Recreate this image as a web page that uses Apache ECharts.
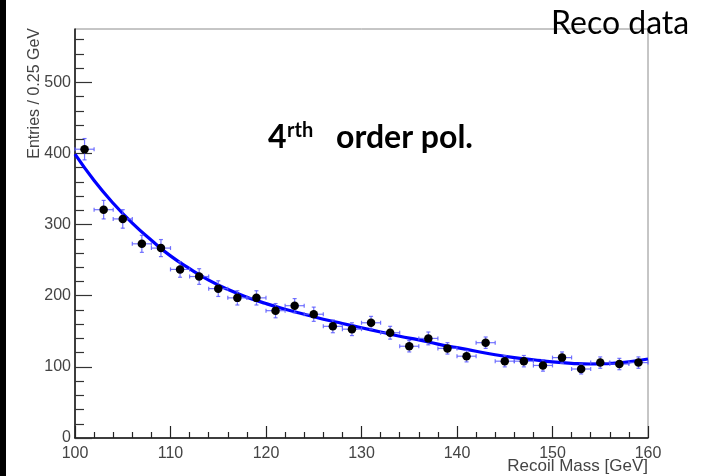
<!DOCTYPE html>
<html>
<head>
<meta charset="utf-8">
<script src="https://cdn.jsdelivr.net/npm/echarts@6/dist/echarts.min.js"></script>
<style>html,body{margin:0;padding:0;background:#fff;}#c{width:708px;height:476px;}</style>
</head>
<body>
<div id="c"></div>
<script>
// ---- data ----
const binCenters = [101,103,105,107,109,111,113,115,117,119,121,123,125,127,129,131,133,135,137,139,141,143,145,147,149,151,153,155,157,159];
const entries    = [406,321,308,273,267,237,227,210,197,197,179,186,174,157,153,162,148,129,140,126,115,134,108,108,102,113,97,106,104,106];
const entryErr   = [15,13,13,12,12,11,11,11,10,10,10,10,10,9,9,9,9,8,9,8,8,8,8,8,8,8,7,8,8,8];
const binHalfWidth = 1;
const fitX = [100,102,104,106,108,110,112,114,116,118,120,122,124,126,128,130,132,134,136,138,140,142,144,146,148,150,152,154,156,158,160];
const fitY = [399,362,330,302,278,256,238,222,209,198,189,181,174,167,161,155,149,143,138,132,127,122,117,113,110,107,105,104,105,107,111];
const xTickValues = [100,110,120,130,140,150,160];
const yTickValues = [0,100,200,300,400,500];
const yMinorTicks = [20,40,60,80,120,140,160,180,220,240,260,280,320,340,360,380,420,440,460,480,520,540,560];
const yMax = 575;

const chart = echarts.init(document.getElementById('c'), null, {renderer:'canvas'});

const errData = binCenters.map((x,i)=>[x, entries[i], entryErr[i]]);
const ptData = binCenters.map((x,i)=>[x, entries[i]]);
const fitData = fitX.map((x,i)=>[x, fitY[i]]);

function renderErr(params, api){
  const x = api.value(0), y = api.value(1), e = api.value(2);
  const top = api.coord([x, y+e]);
  const bot = api.coord([x, y-e]);
  const lft = api.coord([x-binHalfWidth, y]);
  const rgt = api.coord([x+binHalfWidth, y]);
  const st = {stroke:'#5a5aff', lineWidth:1.2, opacity:0.85};
  const c = 2;
  return {type:'group', children:[
    {type:'line', shape:{x1:top[0],y1:top[1],x2:bot[0],y2:bot[1]}, style:st},
    {type:'line', shape:{x1:top[0]-c,y1:top[1],x2:top[0]+c,y2:top[1]}, style:st},
    {type:'line', shape:{x1:bot[0]-c,y1:bot[1],x2:bot[0]+c,y2:bot[1]}, style:st},
    {type:'line', shape:{x1:lft[0],y1:lft[1],x2:rgt[0],y2:rgt[1]}, style:st},
    {type:'line', shape:{x1:lft[0],y1:lft[1]-c,x2:lft[0],y2:lft[1]+c}, style:st},
    {type:'line', shape:{x1:rgt[0],y1:rgt[1]-c,x2:rgt[0],y2:rgt[1]+c}, style:st}
  ]};
}

const lblStyle = {fontFamily:'Liberation Sans', fontSize:16, color:'#444'};

chart.setOption({
  animation:false,
  backgroundColor:'#fff',
  grid:{left:75, right:60, top:29, bottom:38, show:true, borderColor:'#8c8c8c', borderWidth:1, backgroundColor:'transparent'},
  xAxis:{
    type:'value', min:100, max:160, interval:10,
    axisLine:{show:true, lineStyle:{color:'#111', width:1.5}},
    axisTick:{show:true, inside:true, length:12, lineStyle:{color:'#222', width:1.2}},
    minorTick:{show:true, splitNumber:5, length:6, lineStyle:{color:'#222', width:1.2}},
    splitLine:{show:false}, minorSplitLine:{show:false},
    axisLabel:Object.assign({margin:8, customValues:xTickValues}, lblStyle)
  },
  yAxis:[{
    type:'value', min:0, max:yMax, interval:100,
    axisLine:{show:true, onZero:false, lineStyle:{color:'#111', width:1.5}},
    axisTick:{show:true, inside:true, length:17, customValues:yTickValues, lineStyle:{color:'#333', width:1.2}},
    splitLine:{show:false},
    axisLabel:Object.assign({margin:4, customValues:yTickValues}, lblStyle)
  },{
    type:'value', min:0, max:yMax, position:'left',
    axisLine:{show:false},
    axisTick:{show:true, inside:true, length:9, customValues:yMinorTicks, lineStyle:{color:'#333', width:1.2}},
    axisLabel:{show:false}, splitLine:{show:false}
  }],
  series:[
    {type:'line', data:fitData, smooth:true, showSymbol:false, symbol:'none',
     lineStyle:{color:'#0000ff', width:3.2}, z:2},
    {type:'custom', data:errData, renderItem:renderErr, z:3, encode:{x:0,y:1}},
    {type:'scatter', data:ptData, symbol:'circle', symbolSize:8.5, itemStyle:{color:'#000', opacity:1}, z:4}
  ],
  graphic:[
    {type:'rect', left:0, top:0, shape:{x:0,y:0,width:6,height:476}, style:{fill:'#000'}, z:100},
    {type:'text', x:35, y:28, rotation:Math.PI/2, style:{text:'Entries / 0.25 GeV', font:'16px "Liberation Sans"', fill:'#444', align:'right', verticalAlign:'middle'}, z:100},
    {type:'text', x:648, y:475, style:{text:'Recoil Mass [GeV]', font:'17px "Liberation Sans"', fill:'#444', align:'right', verticalAlign:'bottom'}, z:100},
    {type:'text', x:551, y:40, style:{text:'Reco data', font:'32px Lato', fill:'#000', align:'left', verticalAlign:'bottom'}, z:100},
    {type:'text', x:268, y:154, style:{text:'4', font:'bold 32px Lato', fill:'#000', align:'left', verticalAlign:'bottom'}, z:100},
    {type:'text', x:287, y:141, style:{text:'rth', font:'bold 20px Lato', fill:'#000', align:'left', verticalAlign:'bottom'}, z:100},
    {type:'text', x:336, y:154, style:{text:'order pol.', font:'bold 32px Lato', fill:'#000', align:'left', verticalAlign:'bottom'}, z:100}
  ]
});
</script>
</body>
</html>
